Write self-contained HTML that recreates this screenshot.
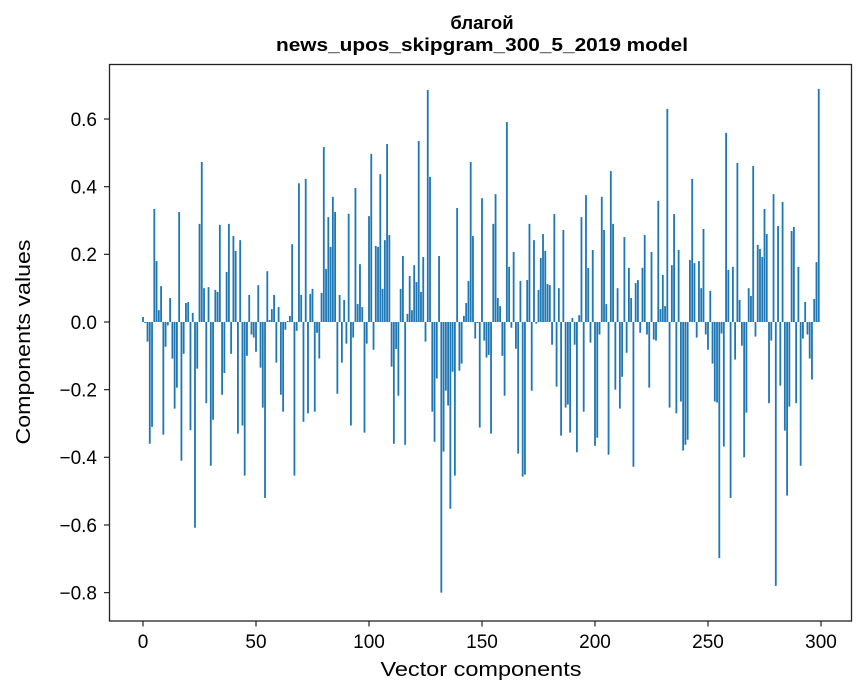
<!DOCTYPE html>
<html><head><meta charset="utf-8"><style>
html,body{margin:0;padding:0;background:#fff;}
svg{display:block;font-family:"Liberation Sans","DejaVu Sans",sans-serif;}
</style></head><body>
<svg id="chart" width="867" height="696">
<rect width="867" height="696" fill="#fff"/>
<text x="482" y="29" text-anchor="middle" font-size="18.5" font-weight="bold">благой</text>
<text x="482" y="51" text-anchor="middle" font-size="18.5" font-weight="bold" textLength="412" lengthAdjust="spacingAndGlyphs">news_upos_skipgram_300_5_2019 model</text>
<g id="bars"></g>
<g id="yticks"></g>
<g id="xticks"></g>
<rect x="109.5" y="64.5" width="742" height="556.5" fill="none" stroke="#222" stroke-width="1.3"/>
<text x="481" y="676" text-anchor="middle" font-size="20.5" textLength="201" lengthAdjust="spacingAndGlyphs">Vector components</text>
<text transform="translate(30,342) rotate(-90)" text-anchor="middle" font-size="20.5" textLength="205" lengthAdjust="spacingAndGlyphs">Components values</text>
</svg>
<script>
const values = [0.015,-0.003,-0.058,-0.36,-0.31,0.334,0.18,0.035,0.106,-0.333,
-0.073,-0.01,0.071,-0.108,-0.256,-0.194,0.325,-0.41,-0.094,0.056,
0.059,-0.32,0.027,-0.608,-0.138,0.29,0.473,0.1,-0.24,0.103,
-0.425,-0.289,0.095,0.089,0.287,-0.215,-0.151,0.148,0.29,-0.094,
0.254,0.21,-0.33,0.242,-0.306,-0.454,-0.1,0.08,-0.037,-0.046,
-0.088,0.109,-0.135,-0.253,-0.52,0.15,0.006,0.038,0.08,-0.12,
0.044,-0.215,-0.265,-0.023,0.003,0.018,0.23,-0.454,-0.026,0.41,
0.08,-0.295,0.423,-0.27,0.083,0.098,-0.265,-0.032,-0.108,0.086,
0.517,0.157,0.31,0.222,0.37,0.325,-0.212,0.08,-0.12,0.065,
-0.064,0.32,-0.306,-0.046,0.396,0.053,0.171,0.044,-0.327,-0.064,
0.313,0.497,-0.082,0.225,0.222,0.437,0.098,0.242,0.526,0.257,
-0.132,-0.36,-0.08,-0.218,0.098,0.195,-0.363,0.024,0.136,0.035,
0.168,0.118,0.535,0.089,0.192,-0.058,0.686,0.429,-0.265,-0.354,
-0.167,0.195,-0.8,-0.383,-0.203,-0.247,-0.552,-0.147,-0.454,0.337,
-0.144,-0.123,0.018,0.056,0.121,0.473,0.254,-0.049,-0.003,-0.312,
0.366,-0.055,-0.105,-0.097,-0.33,0.29,0.378,0.071,0.047,-0.1,
-0.218,0.591,0.163,-0.017,0.207,-0.079,-0.389,0.121,-0.457,-0.451,
0.124,0.29,-0.203,0.242,-0.005,0.095,0.189,0.26,0.21,0.112,
0.109,-0.067,0.319,-0.191,0.1,-0.336,0.272,-0.253,-0.244,-0.327,
0.012,-0.067,-0.385,0.02,0.31,-0.265,0.375,0.16,-0.061,0.213,
-0.366,-0.342,-0.037,0.37,0.272,0.053,-0.392,0.446,0.29,-0.2,
0.1,-0.256,-0.162,0.251,-0.091,0.16,0.071,-0.428,0.115,0.124,
-0.032,0.16,0.257,-0.037,-0.194,0.207,-0.052,-0.055,0.358,0.038,
0.139,0.047,0.63,-0.253,0.168,0.319,-0.27,0.213,-0.235,-0.38,
-0.363,-0.348,0.183,0.423,0.174,-0.046,0.18,0.1,0.275,-0.037,
-0.082,0.092,-0.123,-0.235,-0.238,-0.698,-0.034,-0.368,0.559,0.154,
-0.52,0.163,-0.111,0.47,0.065,-0.07,-0.4,-0.268,0.1,0.077,
0.461,-0.043,0.228,0.216,0.192,0.334,0.26,-0.24,-0.055,0.378,
-0.78,0.284,-0.188,0.355,-0.321,-0.513,-0.25,0.269,0.281,-0.24,
0.163,-0.425,-0.049,0.059,-0.037,-0.108,-0.17,0.068,0.177,0.689];
const yTickValues = [-0.8,-0.6,-0.4,-0.2,0.0,0.2,0.4,0.6];
const yTickLabels = ["\u22120.8","\u22120.6","\u22120.4","\u22120.2","0.0","0.2","0.4","0.6"];
const xTickValues = [0,50,100,150,200,250,300];
const xTickLabels = ["0","50","100","150","200","250","300"];

const NS = "http://www.w3.org/2000/svg";
const X0 = 143, XS = 2.26;
const Y0 = 322, YS = 338.3;
function xs(v){ return X0 + v*XS; }
function ys(v){ return Y0 - v*YS; }

const gb = document.getElementById('bars');
values.forEach((v,i)=>{
  const r = document.createElementNS(NS,'rect');
  const w = 0.8*XS;
  r.setAttribute('x', xs(i)-w/2);
  r.setAttribute('width', w);
  r.setAttribute('y', Math.min(ys(v), ys(0)));
  r.setAttribute('height', Math.abs(ys(v)-ys(0)));
  r.setAttribute('fill', '#1f77b4');
  
  
  gb.appendChild(r);
});

const gy = document.getElementById('yticks');
yTickValues.forEach((v,i)=>{
  const y = ys(v);
  const l = document.createElementNS(NS,'line');
  l.setAttribute('x1',104); l.setAttribute('x2',109.5);
  l.setAttribute('y1',y); l.setAttribute('y2',y);
  l.setAttribute('stroke','#222'); l.setAttribute('stroke-width','1.2');
  
  
  gy.appendChild(l);
  const t = document.createElementNS(NS,'text');
  t.setAttribute('x',97); t.setAttribute('y',y+6.8);
  t.setAttribute('text-anchor','end'); t.setAttribute('font-size','19');
  t.textContent = yTickLabels[i];
  
  
  gy.appendChild(t);
});

const gx = document.getElementById('xticks');
xTickValues.forEach((v,i)=>{
  const x = xs(v);
  const l = document.createElementNS(NS,'line');
  l.setAttribute('x1',x); l.setAttribute('x2',x);
  l.setAttribute('y1',621); l.setAttribute('y2',626.5);
  l.setAttribute('stroke','#222'); l.setAttribute('stroke-width','1.2');
  
  
  gx.appendChild(l);
  const t = document.createElementNS(NS,'text');
  t.setAttribute('x',x); t.setAttribute('y',648);
  t.setAttribute('text-anchor','middle'); t.setAttribute('font-size','19');
  t.textContent = xTickLabels[i];
  
  
  gx.appendChild(t);
});
</script>
</body></html>
